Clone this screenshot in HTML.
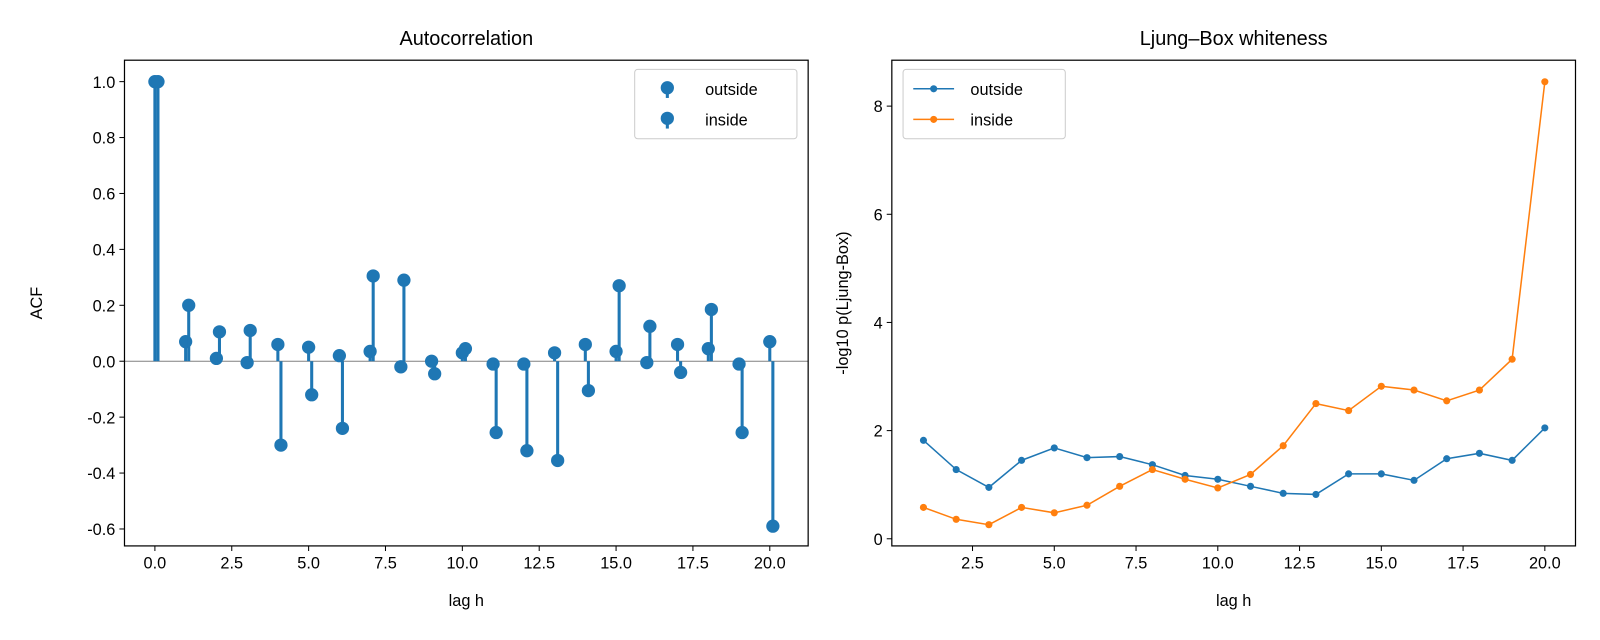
<!DOCTYPE html>
<html><head><meta charset="utf-8"><style>
html,body{margin:0;padding:0;background:#fff;overflow:hidden;width:1600px;height:640px;}
svg{display:block;font-family:"Liberation Sans","DejaVu Sans",sans-serif;}
</style></head><body>
<svg width="1600" height="640" viewBox="0 0 1600 640"><g id="fig" transform="scale(1.0204)"></g></svg>
<script>
const lags=[0,1,2,3,4,5,6,7,8,9,10,11,12,13,14,15,16,17,18,19,20];
const acfOutside=[1.0,0.07,0.01,-0.005,0.06,0.05,0.02,0.035,-0.02,0.0,0.03,-0.01,-0.01,0.03,0.06,0.035,-0.005,0.06,0.045,-0.01,0.07];
const acfInside=[1.0,0.20,0.105,0.11,-0.30,-0.12,-0.24,0.305,0.29,-0.045,0.045,-0.255,-0.32,-0.355,-0.105,0.27,0.125,-0.04,0.185,-0.255,-0.59];
const lbLags=[1,2,3,4,5,6,7,8,9,10,11,12,13,14,15,16,17,18,19,20];
const lbOutside=[1.82,1.28,0.95,1.45,1.68,1.5,1.52,1.37,1.17,1.1,0.97,0.84,0.82,1.2,1.2,1.08,1.48,1.58,1.45,2.05];
const lbInside=[0.58,0.36,0.26,0.58,0.48,0.62,0.97,1.28,1.1,0.94,1.19,1.72,2.5,2.37,2.82,2.75,2.55,2.75,3.32,8.45];
const xTicksL=[0,2.5,5,7.5,10,12.5,15,17.5,20];
const yTicksL=[-0.6,-0.4,-0.2,0,0.2,0.4,0.6,0.8,1.0];
const xTicksR=[2.5,5,7.5,10,12.5,15,17.5,20];
const yTicksR=[0,2,4,6,8];

const NS="http://www.w3.org/2000/svg";
const svg=document.getElementById('fig');
function mk(tag,attrs,parent,text){const e=document.createElementNS(NS,tag);for(const k in attrs)e.setAttribute(k,attrs[k]);if(text!==undefined)e.textContent=text;(parent||svg).appendChild(e);return e;}

const L={x0:122,x1:792,y0:59,y1:535};
const lx=v=>151.8+v*30.13;
const ly=v=>354-v*274;
const gL=mk('g',{});


let zl=mk('line',{x1:L.x0,x2:L.x1,y1:ly(0),y2:ly(0),stroke:'#808080','stroke-width':1},gL);

function stems(vals,off,name){
  vals.forEach((v,i)=>{const x=lx(lags[i]+off);
    const s=mk('line',{x1:x,x2:x,y1:ly(0),y2:ly(v),stroke:'#1f77b4','stroke-width':3},gL);
    
    const c=mk('circle',{cx:x,cy:ly(v),r:6.5,fill:'#1f77b4'},gL);
    
  });
}
stems(acfOutside,0,'outside');
stems(acfInside,0.1,'inside');
mk('rect',{x:L.x0,y:L.y0,width:L.x1-L.x0,height:L.y1-L.y0,fill:'none',stroke:'#000','stroke-width':1.2},gL);
xTicksL.forEach(t=>{const x=lx(t);mk('line',{x1:x,x2:x,y1:L.y1,y2:L.y1+5,stroke:'#000'},gL);
  const tx=mk('text',{x:x,y:L.y1+22,'text-anchor':'middle','font-size':16},gL,t.toFixed(1));
  });
yTicksL.forEach(t=>{const y=ly(t);mk('line',{x1:L.x0-5,x2:L.x0,y1:y,y2:y,stroke:'#000'},gL);
  const tx=mk('text',{x:L.x0-9,y:y+6,'text-anchor':'end','font-size':16},gL,t.toFixed(1));
  });
let t1=mk('text',{x:457,y:44,'text-anchor':'middle','font-size':19.5},gL,'Autocorrelation');

let xl1=mk('text',{x:457,y:594,'text-anchor':'middle','font-size':16},gL,'lag h');

let yl1=mk('text',{x:0,y:0,'text-anchor':'middle','font-size':16,transform:'translate(41,297) rotate(-90)'},gL,'ACF');

const lgL=mk('g',{},gL);

mk('rect',{x:622,y:68,width:159,height:68,rx:3,fill:'#fff',stroke:'#ccc'},lgL);
[['outside',87],['inside',117]].forEach(([n,y])=>{
  mk('line',{x1:654,x2:654,y1:y,y2:y+9,stroke:'#1f77b4','stroke-width':3},lgL);
  mk('circle',{cx:654,cy:y-1,r:6.5,fill:'#1f77b4'},lgL);
  const t=mk('text',{x:691,y:y+6,'font-size':16},lgL,n);
  
});

const R={x0:874,x1:1544,y0:59,y1:535};
const rx=v=>905+(v-1)*32.05;
const ry=v=>528-v*53;
const gR=mk('g',{});


function series(vals,color,name){
  const pts=vals.map((v,i)=>rx(lbLags[i])+','+ry(v)).join(' ');
  const pl=mk('polyline',{points:pts,fill:'none',stroke:color,'stroke-width':1.5},gR);
  
  vals.forEach((v,i)=>{const c=mk('circle',{cx:rx(lbLags[i]),cy:ry(v),r:3.5,fill:color},gR);
    });
}
series(lbOutside,'#1f77b4','outside');
series(lbInside,'#ff7f0e','inside');
mk('rect',{x:R.x0,y:R.y0,width:R.x1-R.x0,height:R.y1-R.y0,fill:'none',stroke:'#000','stroke-width':1.2},gR);
xTicksR.forEach(t=>{const x=rx(t);mk('line',{x1:x,x2:x,y1:R.y1,y2:R.y1+5,stroke:'#000'},gR);
  const tx=mk('text',{x:x,y:R.y1+22,'text-anchor':'middle','font-size':16},gR,t.toFixed(1));
  });
yTicksR.forEach(t=>{const y=ry(t);mk('line',{x1:R.x0-5,x2:R.x0,y1:y,y2:y,stroke:'#000'},gR);
  const tx=mk('text',{x:R.x0-9,y:y+6,'text-anchor':'end','font-size':16},gR,String(t));
  });
let t2=mk('text',{x:1209,y:44,'text-anchor':'middle','font-size':19.5},gR,'Ljung–Box whiteness');

let xl2=mk('text',{x:1209,y:594,'text-anchor':'middle','font-size':16},gR,'lag h');

let yl2=mk('text',{x:0,y:0,'text-anchor':'middle','font-size':16,transform:'translate(831,297) rotate(-90)'},gR,'-log10 p(Ljung-Box)');

const lgR=mk('g',{},gR);

mk('rect',{x:885,y:68,width:159,height:68,rx:3,fill:'#fff',stroke:'#ccc'},lgR);
[['outside',87,'#1f77b4'],['inside',117,'#ff7f0e']].forEach(([n,y,c])=>{
  mk('line',{x1:895,x2:935,y1:y,y2:y,stroke:c,'stroke-width':1.5},lgR);
  mk('circle',{cx:915,cy:y,r:3.5,fill:c},lgR);
  const t=mk('text',{x:951,y:y+6,'font-size':16},lgR,n);
  
});
</script>
</body></html>
